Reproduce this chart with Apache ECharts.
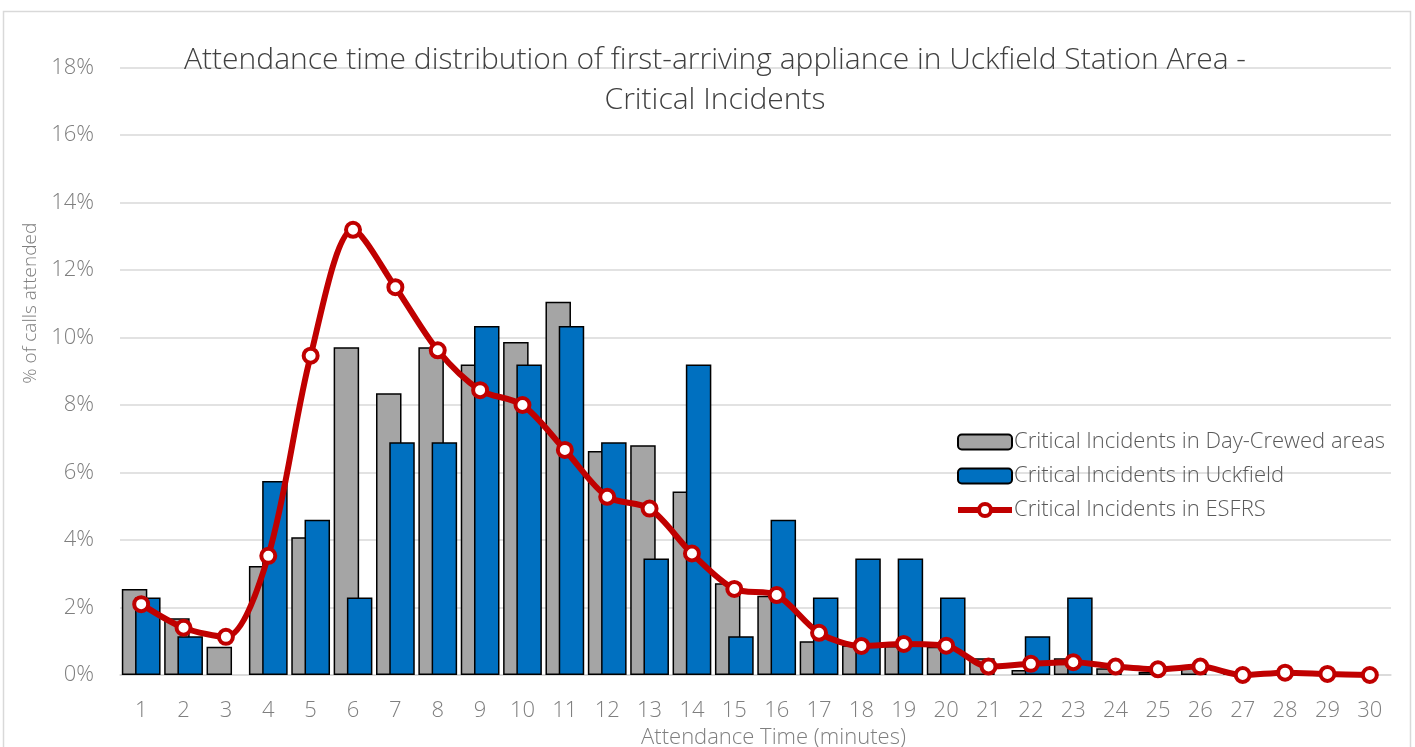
<!DOCTYPE html>
<html>
<head>
<meta charset="utf-8">
<script src="https://cdn.jsdelivr.net/npm/echarts@6/dist/echarts.min.js"></script>
<style>
  html, body { margin: 0; padding: 0; background: #fff; }
  #chart { width: 1415px; height: 747px; }
</style>
</head>
<body>
<div id="chart"></div>
<script>
// attendance minutes 1..30
const minutes = ['1','2','3','4','5','6','7','8','9','10','11','12','13','14','15',
  '16','17','18','19','20','21','22','23','24','25','26','27','28','29','30']

// % of calls attended (null = no bar drawn)
const dayCrewed = [2.55, 1.68, 0.84, 3.23, 4.08, 9.71, 8.35, 9.71, 9.2, 9.87, 11.06, 6.64, 6.81, 5.44, 2.72,
  2.35, 1.0, 0.88, 0.86, 0.84, 0.5, 0.15, 0.5, 0.2, 0.1, 0.25, 0.05, 0.05, 0.03, 0.02]
const uckfield = [2.3, 1.15, null, 5.75, 4.6, 2.3, 6.9, 6.9, 10.34, 9.2, 10.34, 6.9, 3.45, 9.2, 1.15,
  4.6, 2.3, 3.45, 3.45, 2.3, null, 1.15, 2.3, null, null, null, null, null, null, null]
const esfrs = [2.1, 1.4, 1.13, 3.53, 9.46, 13.19, 11.49, 9.62, 8.44, 8.0, 6.67, 5.28, 4.93, 3.6, 2.55,
  2.37, 1.25, 0.86, 0.92, 0.87, 0.25, 0.33, 0.38, 0.25, 0.17, 0.25, 0.0, 0.07, 0.03, 0.0]

const fontFamily = "'Segoe UI', 'Open Sans', sans-serif"
const labelColor = '#7f7f7f'
const gridColor = '#d9d9d9'
const lineColor = '#c00000'

const chart = echarts.init(document.getElementById('chart'))

const option = {
  animation: false,
  textStyle: { fontFamily: fontFamily },
  title: {
    text: 'Attendance time distribution of first-arriving appliance in Uckfield Station Area -\nCritical Incidents',
    left: 710,
    top: 35,
    textAlign: 'center',
    textStyle: {
      fontFamily: fontFamily,
      fontSize: 30,
      fontWeight: 300,
      color: '#404040',
      lineHeight: 40
    }
  },
  legend: {
    orient: 'vertical',
    left: 950,
    top: 426,
    itemWidth: 54,
    itemHeight: 15,
    itemGap: 12,
    textStyle: {
      fontFamily: fontFamily,
      fontSize: 22,
      fontWeight: 300,
      color: '#595959',
      lineHeight: 22,
      padding: [0, 0, 0, -3]
    },
    data: [
      'Critical Incidents in Day-Crewed areas',
      'Critical Incidents in Uckfield',
      {
        name: 'Critical Incidents in ESFRS',
        lineStyle: { width: 6 },
        itemStyle: { borderWidth: 4 }
      }
    ]
  },
  grid: {
    left: 120,
    right: 24,
    top: 67.5,
    bottom: 72,
    containLabel: false,
    outerBoundsMode: 'none'
  },
  xAxis: {
    type: 'category',
    data: minutes,
    name: 'Attendance Time (minutes)',
    nameLocation: 'middle',
    nameGap: 51,
    nameTextStyle: {
      fontSize: 22,
      fontWeight: 300,
      color: labelColor,
      padding: [0, 0, 0, 36]
    },
    axisTick: { show: false },
    axisLine: { lineStyle: { color: gridColor, width: 1.5 } },
    axisLabel: {
      fontSize: 22,
      fontWeight: 300,
      color: labelColor,
      margin: 25
    }
  },
  yAxis: {
    type: 'value',
    min: 0,
    max: 18,
    interval: 2,
    name: '% of calls attended',
    nameLocation: 'middle',
    nameGap: 80,
    nameTextStyle: {
      fontSize: 19,
      fontWeight: 300,
      color: labelColor,
      padding: [0, 0, 0, 136]
    },
    axisLine: { show: false },
    axisTick: { show: false },
    axisLabel: {
      formatter: v => v + '%',
      fontSize: 22,
      fontWeight: 300,
      color: labelColor,
      margin: 26
    },
    splitLine: { lineStyle: { color: gridColor, width: 1.5 } }
  },
  series: [
    {
      name: 'Critical Incidents in Day-Crewed areas',
      type: 'bar',
      data: dayCrewed,
      barWidth: 25.5,
      barGap: '-48%',
      itemStyle: { color: '#a5a5a5', borderColor: '#000', borderWidth: 1.5 }
    },
    {
      name: 'Critical Incidents in Uckfield',
      type: 'bar',
      data: uckfield,
      barWidth: 25.5,
      barGap: '-48%',
      itemStyle: { color: '#0070c0', borderColor: '#000', borderWidth: 1.5 }
    },
    {
      name: 'Critical Incidents in ESFRS',
      type: 'line',
      data: esfrs,
      smooth: 0.3,
      symbol: 'circle',
      symbolSize: 14,
      lineStyle: { color: lineColor, width: 6 },
      itemStyle: { color: '#fff', borderColor: lineColor, borderWidth: 4 },
      z: 3
    }
  ],
  graphic: [
    {
      type: 'rect',
      shape: { x: 3.5, y: 11.5, width: 1407, height: 760 },
      style: { fill: 'none', stroke: gridColor, lineWidth: 1.5 },
      silent: true
    }
  ]
}

chart.setOption(option)
</script>
</body>
</html>
